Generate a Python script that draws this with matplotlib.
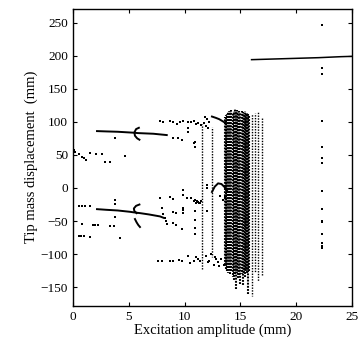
import numpy as np
import matplotlib.pyplot as plt

plt.rcParams['font.family'] = ['Liberation Serif', 'DejaVu Serif']

# periodic branches (drawn as connected runs of samples)
upper_x = [2.15, 3.0, 4.0, 5.0, 5.5, 5.8, 6.5, 7.2, 7.8, 8.4]
upper_y = [86, 85.5, 85, 84, 83.5, 83, 82.5, 82, 81, 80]
upper_curl_x = [5.9, 5.65, 5.5, 5.55, 5.75, 5.95]
upper_curl_y = [91, 89, 84, 79, 75, 73]

lower_x = [2.15, 3.0, 4.0, 5.1, 5.5, 6.0, 6.8, 7.8, 8.1]
lower_y = [-32, -33, -34, -36, -37, -38, -40, -43, -45]
lower_curl_x = [5.95, 5.65, 5.45, 5.5, 5.7]
lower_curl_y = [-25, -27, -31, -35, -38]
lower_tail_x = [5.55, 5.7, 5.85, 6.0]
lower_tail_y = [-47, -52, -56, -59]

right_x = [16.0, 18.0, 20.0, 22.0, 24.0, 25.0]
right_y = [194, 195, 196, 197, 198.5, 199]

arc_x = [12.45, 12.8, 13.1, 13.4, 13.7]
arc_y = [108, 106, 104, 101, 98]
loop_x = [12.45, 12.7, 13.0, 13.3, 13.6, 13.8]
loop_y = [-6, 2, 7, 6, 1, -4]

# scattered stroboscopic samples
dots_x = [0.05, 0.2, 0.5, 0.8, 1.0, 1.2, 1.5, 2.1, 2.6, 2.9, 3.3, 4.7, 3.8,
          0.5, 0.8, 1.1, 1.5, 0.8, 1.8, 2.0, 2.2, 3.3, 3.7, 0.5, 0.7, 1.0, 1.5,
          3.8, 3.8, 3.8, 4.2,
          7.8, 8.1, 8.7, 9.0, 9.3, 9.6, 9.9, 10.3, 10.6, 10.8, 11.0, 11.2, 11.5,
          11.8, 12.0, 12.2, 10.3, 10.3, 10.9, 10.9, 9.0, 9.4, 9.8, 10.8,
          11.7, 11.9, 12.1,
          7.8, 8.7, 9.0, 9.85, 10.2, 10.6, 9.85, 9.85, 10.8, 11.0, 11.2, 11.4,
          11.5, 10.9, 11.1, 11.3,
          8.0, 8.1, 8.2, 8.3, 8.4, 9.0, 9.2, 9.85, 9.85, 9.0, 9.2, 9.8,
          10.9, 10.9, 10.9, 10.9, 12.0, 12.0, 12.0,
          13.2, 13.4, 13.6,
          7.6, 8.0, 8.7, 9.0, 9.5, 9.8, 10.3, 10.5, 10.8, 11.0, 11.2, 11.4,
          11.9, 12.2, 12.4, 12.6, 12.8, 13.0, 13.1, 13.3, 13.5, 12.1, 12.7,
          22.35, 22.35, 22.35, 22.35, 22.35, 22.35, 22.35, 22.35, 22.35,
          22.35, 22.35, 22.35, 22.35, 22.35, 22.35]
dots_y = [57, 55, 52, 47, 45, 43, 53, 52, 51, 39, 39, 48, 76,
          -27, -27, -27, -27, -54, -56, -56, -56, -58, -57, -72, -72, -73, -74,
          -18, -24, -44, -75,
          101, 100, 101, 99, 97, 100, 101, 100, 100, 101, 97, 98, 95,
          108, 104, 100, 91, 85, 70, 62, 76, 75, 73, 68,
          98, 94, 90,
          -15, -14, -16, -3, -15, -15, -10, -30, -20, -22, -21, -23,
          -19, -18, -20, -22,
          -30, -40, -46, -50, -54, -37, -38, -34, -38, -53, -56, -62,
          -35, -48, -60, -70, 4, 0, -35,
          -12, -18, -14,
          -110, -110, -110, -111, -109, -110, -103, -113, -110, -104, -108, -110,
          -103, -110, -100, -116, -108, -112, -118, -107, -116, -112, -104,
          247, 181, 172, 101, 62, 45, 38, -4, -32, -50, -52, -69, -83, -87, -90]

# dotted columns: amplitude, lowest and highest sampled displacement
col_x = [11.6, 12.45,
         13.6, 13.7, 13.8, 13.9, 14.0, 14.1, 14.2, 14.3, 14.4, 14.5, 14.6,
         14.7, 14.8, 14.9, 15.0, 15.1, 15.2, 15.3, 15.4, 15.5, 15.6, 15.7,
         15.8, 16.0, 16.3, 16.6, 16.9]
col_lo = [-122, -104,
          -118, -122, -125, -128, -122, -130, -126, -135, -140, -130, -152,
          -128, -138, -132, -145, -130, -148, -128, -134, -126, -130, -160,
          -125, -163, -128, -140, -132]
col_hi = [96, 92,
          108, 110, 112, 115, 117, 116, 118, 114, 117, 119, 116,
          118, 115, 117, 114, 116, 115, 113, 116, 112, 114, 113,
          110, 112, 113, 115, 108]

fig = plt.figure(figsize=(3.62, 3.49), dpi=100)
ax = fig.add_axes([0.2017, 0.124, 0.7707, 0.851])

for i, (cx, lo, hi) in enumerate(zip(col_x, col_lo, col_hi)):
    dense = 2 <= i <= 24
    lw = 1.5 if dense else 1.0
    ax.plot([cx, cx], [lo, hi], color='k', lw=lw,
            linestyle=(i % 4 * 0.5, (0.9, 0.6) if dense else (1.0, 1.0)))

for bx, by in [(upper_x, upper_y), (upper_curl_x, upper_curl_y),
               (lower_x, lower_y), (lower_curl_x, lower_curl_y),
               (lower_tail_x, lower_tail_y), (arc_x, arc_y), (loop_x, loop_y)]:
    ax.plot(bx, by, color='k', lw=1.4)
ax.plot(right_x, right_y, color='k', lw=1.1)

ax.plot(dots_x, dots_y, 'ks', ms=1.6, mew=0)

ax.set_xlim(0, 25)
ax.set_ylim(-178, 271)
ax.set_xticks([0, 5, 10, 15, 20, 25])
ax.set_yticks([-150, -100, -50, 0, 50, 100, 150, 200, 250])
ax.set_yticklabels(['\u2212150', '\u2212100', '\u221250', '0', '50', '100',
                    '150', '200', '250'])
ax.tick_params(direction='in', top=True, right=True, length=3, width=0.8,
               labelsize=9.5)
for s in ax.spines.values():
    s.set_linewidth(1.0)
ax.set_xlabel('Excitation amplitude (mm)', fontsize=10.5, labelpad=1)
ax.set_ylabel('Tip mass displacement  (mm)', fontsize=10.5, labelpad=2)

fig.savefig('out.png', dpi=100)
